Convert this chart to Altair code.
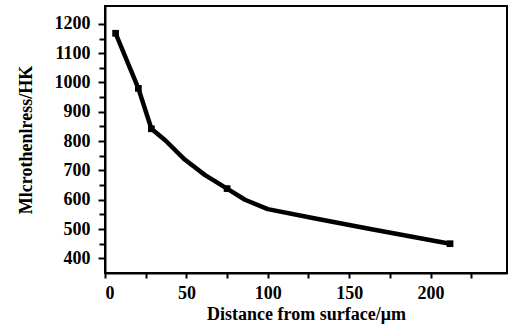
import altair as alt
import pandas as pd

distance = [6.5, 20.5, 28.5, 37, 49, 61.5, 75, 86, 100, 130, 163, 212]
hardness = [1168, 980, 842, 803, 737, 684, 638, 600, 568, 535, 500, 450]
marker_dist = [6.5, 20.5, 28.5, 75, 212]
marker_hard = [1168, 980, 842, 638, 450]

x_major = [0, 50, 100, 150, 200]
x_minor = [25, 75, 125, 175, 225]
y_major = [400, 500, 600, 700, 800, 900, 1000, 1100, 1200]
y_minor = [450, 550, 650, 750, 850, 950, 1050, 1150]

df = pd.DataFrame({"d": distance, "h": hardness})
dm = pd.DataFrame({"d": marker_dist, "h": marker_hard})

FONT = "Liberation Serif"

xs = alt.Scale(domain=[0, 247], nice=False, zero=False)
ys = alt.Scale(domain=[350, 1261], nice=False, zero=False)

common = dict(grid=False, tickWidth=2, tickColor="black", domainColor="black", domainWidth=2,
              labelFont=FONT, labelFontSize=18, labelFontWeight="bold", labelColor="black",
              titleFont=FONT, titleFontSize=18, titleFontWeight="bold", titleColor="black",
              labelOverlap=False)

xaxis = alt.Axis(orient="bottom", values=x_major, title="Distance from surface/\u03bcm", tickSize=5,
                 labelPadding=6, titlePadding=3, **common)
yaxis = alt.Axis(orient="left", values=y_major, format="d", title="Mlcrothenlress/HK", tickSize=7,
                 labelPadding=8, titlePadding=19, **common)
xaxis_minor = alt.Axis(orient="bottom", values=x_minor, labels=False, title=None, tickSize=5,
                       domain=False, grid=False, tickWidth=2, tickColor="black")
yaxis_minor = alt.Axis(orient="left", values=y_minor, labels=False, title=None, tickSize=6,
                       domain=False, grid=False, tickWidth=2, tickColor="black")

line = alt.Chart(df).mark_line(color="black", strokeWidth=4.5, strokeJoin="round").encode(
    x=alt.X("d:Q", scale=xs, axis=xaxis),
    y=alt.Y("h:Q", scale=ys, axis=yaxis),
)
pts = alt.Chart(dm).mark_point(shape="square", filled=True, color="black", size=45, opacity=1).encode(
    x=alt.X("d:Q", scale=xs, axis=xaxis_minor),
    y=alt.Y("h:Q", scale=ys, axis=yaxis_minor),
)

chart = alt.layer(line, pts).resolve_axis(x="independent", y="independent").properties(
    width=402, height=267,
    autosize=alt.AutoSizeParams(type="none"),
    padding={"left": 105, "top": 6, "right": 2, "bottom": 58},
    background="white",
).configure_view(stroke="black", strokeWidth=2)

chart.save("out.html", embed_options={"renderer": "svg", "actions": False})
